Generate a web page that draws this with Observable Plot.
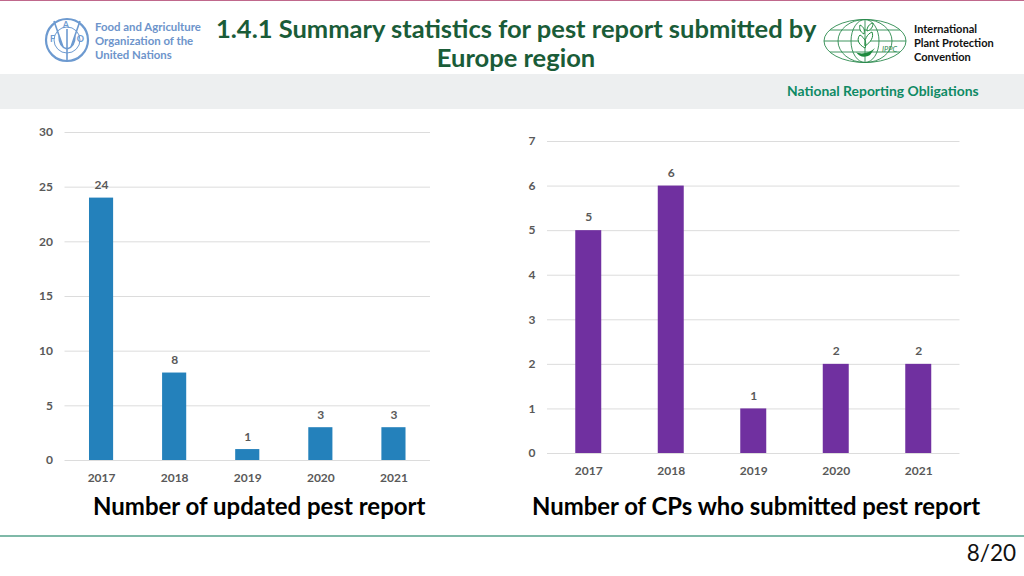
<!DOCTYPE html>
<html><head><meta charset="utf-8">
<script src="https://cdn.jsdelivr.net/npm/d3@7"></script>
<script src="https://cdn.jsdelivr.net/npm/@observablehq/plot@0.6"></script>
<style>
html,body{margin:0;padding:0;background:#fff;}
#page{position:relative;width:1024px;height:576px;overflow:hidden;font-family:Lato,"Open Sans",sans-serif;}
#page>*{position:absolute;}
.t{white-space:nowrap;line-height:1;}
svg text{font-family:Lato,"Open Sans",sans-serif;}
</style></head><body>
<div id="page">
  <div style="left:0;top:0;width:1024px;height:1px;background:#c0688c"></div>
  <div style="left:0;top:74px;width:1024px;height:35px;background:#edeff0"></div>
  <div style="left:0;top:535px;width:1024px;height:2px;background:#7fb9a8"></div>

  <svg style="left:44px;top:17px" width="46" height="46" viewBox="0 0 46 46">
    <circle cx="23" cy="23" r="21" fill="none" stroke="#6d9ad0" stroke-width="2.2"/>
    <circle cx="23" cy="23" r="13" fill="none" stroke="#6d9ad0" stroke-width="1"/>
    <path d="M23 12V44M23 32C16 30 15 23 15 19M23 32C30 30 31 23 31 19M10 4L19 30M36 4L27 30" fill="none" stroke="#6d9ad0" stroke-width="1.6"/>
    <text x="8.5" y="25" font-size="9" font-weight="700" fill="#6d9ad0" text-anchor="middle">F</text>
    <text x="22" y="11" font-size="9" font-weight="700" fill="#6d9ad0" text-anchor="middle">A</text>
    <text x="36.5" y="25" font-size="9" font-weight="700" fill="#6d9ad0" text-anchor="middle">O</text>
  </svg>
  <div class="t" style="left:95px;top:20px;font-size:11.4px;line-height:14px;font-weight:700;color:#6d94cb">Food and Agriculture<br>Organization of the<br>United Nations</div>

  <div style="left:216px;top:14px;width:600px;text-align:center;font-size:25.5px;line-height:29px;font-weight:700;color:#1a5c38;white-space:nowrap">1.4.1 Summary statistics for pest report submitted by<br>Europe region</div>

  <svg style="left:823px;top:18px" width="84" height="46" viewBox="0 0 84 46">
    <g fill="none" stroke="#2b8a4e" stroke-width="0.9">
      <ellipse cx="42" cy="23" rx="41" ry="21.5"/>
      <ellipse cx="42" cy="23" rx="27" ry="21.5"/>
      <ellipse cx="42" cy="23" rx="14" ry="21.5"/>
      <path d="M42 1.5V44.5M1 23H83M7 12H77M7 34H77"/>
    </g>
    <path d="M33 34C38 37 47 35 52 30L47 37C42 40 36 39 33 34Z" fill="#1f8a3f"/>
    <path d="M42 30C34 26 34 20 37 17C42 20 44 25 42 30ZM42 28C48 24 51 19 49 14C44 16 41 22 42 28ZM41 16C37 14 36 10 37 7C41 9 42 12 41 16ZM44 13C44 9 46 6 50 5C50 9 48 12 44 13Z" fill="#fff" stroke="#1f8a3f" stroke-width="1"/>
    <text x="59" y="34" font-size="7.5" font-style="italic" fill="#2b8a4e">IPPC</text>
  </svg>
  <div class="t" style="left:914px;top:21.5px;font-size:11px;line-height:14px;font-weight:700;color:#111">International<br>Plant Protection<br>Convention</div>

  <div class="t" style="left:787px;top:84px;font-size:13.9px;font-weight:700;color:#0e8a64">National Reporting Obligations</div>

  <div id="left" style="left:0;top:120px"></div>
  <div id="right" style="left:512px;top:130px"></div>

  <div class="t" style="left:93px;top:494px;font-size:24px;font-weight:700;color:#000">Number of updated pest report</div>
  <div class="t" style="left:532px;top:494px;font-size:23.9px;font-weight:700;color:#000">Number of CPs who submitted pest report</div>
  <div class="t" style="right:8px;top:542px;font-size:22.5px;color:#111">8/20</div>
</div>
<script>
const years = ["2017","2018","2019","2020","2021"];
const updatedReports = [24,8,1,3,3];
const submittingCPs = [5,6,1,2,2];
const leftTicks = [0,5,10,15,20,25,30];
const rightTicks = [0,1,2,3,4,5,6,7];

function chart(values, ticks, color, o){
  const rows = years.map((year,i)=>({year, value:values[i]}));
  return Plot.plot({
    width:o.width, height:o.height,
    marginLeft:o.left, marginRight:o.right, marginTop:o.top, marginBottom:o.bottom,
    style:{background:"transparent",fontFamily:"'Open Sans', sans-serif",fontSize:"12px",fontWeight:700,color:"#595959",overflow:"visible"},
    x:{domain:years,paddingInner:o.pad,paddingOuter:o.pad/2,round:false,label:null,tickSize:0,tickPadding:o.xpad},
    y:{domain:[0,ticks[ticks.length-1]],label:null,ticks,tickFormat:"d",tickSize:0,tickPadding:12},
    marks:[
      Plot.gridY(ticks,{stroke:"#dcdcdc",strokeOpacity:1,strokeWidth:1}),
      Plot.barY(rows,{x:"year",y:"value",fill:color}),
      Plot.text(rows,{x:"year",y:"value",text:d=>String(d.value),dy:o.dy,fill:"#595959",fontFamily:"'Open Sans', sans-serif",fontWeight:700,fontSize:12})
    ]
  });
}
document.getElementById("left").append(chart(updatedReports,leftTicks,"#2481bb",
  {width:512,height:375,left:64.5,right:82,top:12,bottom:35,pad:0.67,xpad:13,dy:-12.5}));
document.getElementById("right").append(chart(submittingCPs,rightTicks,"#7030a0",
  {width:512,height:358,left:35,right:64.5,top:11,bottom:35,pad:0.685,xpad:13,dy:-13}));
</script>
</body></html>
